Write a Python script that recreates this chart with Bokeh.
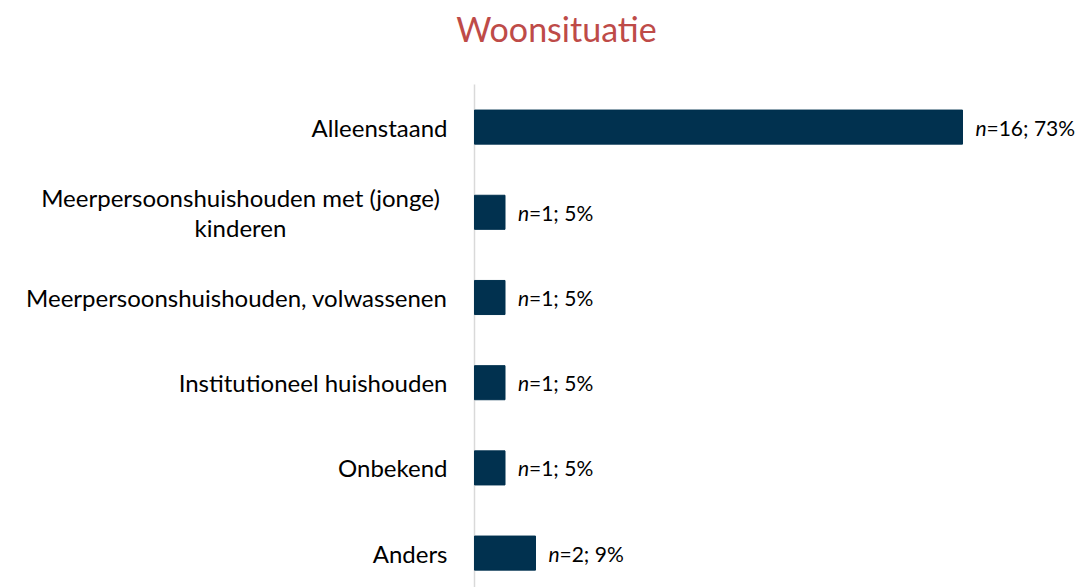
from bokeh.plotting import figure
from bokeh.models import ColumnDataSource, Range1d
from bokeh.core.properties import value
from bokeh.embed import file_html
from bokeh.resources import INLINE

title_text = "Woonsituatie"
categories = ["Alleenstaand", "Meerpersoonshuishouden met (jonge)\nkinderen",
              "Meerpersoonshuishouden, volwassenen", "Institutioneel huishouden",
              "Onbekend", "Anders"]
counts = [16, 1, 1, 1, 1, 2]
percents = [73, 5, 5, 5, 5, 9]

FONT = "Lato"
BAR = "#01314F"
CAT_SIZE = "24px"
VAL_SIZE = "21px"

ypos = list(range(len(categories) - 1, -1, -1))
multi = ["\n" in c for c in categories]
src = ColumnDataSource(dict(
    y=ypos, n=counts,
    n_txt=["n"] * len(counts),
    rest=["=%d; %d%%" % (c, p) for c, p in zip(counts, percents)],
))
cat_single = ColumnDataSource(dict(
    y=[y for y, m in zip(ypos, multi) if not m],
    x=[0] * sum(1 for m in multi if not m),
    t=[c for c, m in zip(categories, multi) if not m]))
cat_multi = ColumnDataSource(dict(
    y=[y for y, m in zip(ypos, multi) if m],
    x=[0] * sum(1 for m in multi if m),
    t=[c for c, m in zip(categories, multi) if m]))

W, H = 1078, 587
axis_px = 474
px_per_unit = 30.5
px_per_cat = 85.2
x_start = -axis_px / px_per_unit
x_end = (W - axis_px) / px_per_unit
top = 84
cat_top = 5.5
y_top = cat_top + top / px_per_cat
y_start = y_top - H / px_per_cat

p = figure(width=W, height=H, output_backend="svg", toolbar_location=None,
           x_range=Range1d(x_start, x_end), y_range=Range1d(y_start, y_top),
           min_border=0)
p.outline_line_color = None
p.grid.grid_line_color = None
p.xaxis.visible = False
p.yaxis.visible = False

# category axis line
p.segment(x0=[0], y0=[y_start], x1=[0], y1=[cat_top], line_color="#D9D9D9", line_width=1.5)

# title
p.text(x=[0], y=[y_top], text=[title_text], x_offset=556 - axis_px, y_offset=28,
       text_font=value(FONT), text_font_size="34px", text_color="#BE4B48",
       text_align="center", text_baseline="middle")

p.hbar(y="y", right="n", left=0, height=0.40, source=src, color=BAR)
p.text(x="n", y="y", text="n_txt", source=src, x_offset=13,
       text_font=value(FONT), text_font_style="italic", text_font_size=VAL_SIZE,
       text_baseline="middle", text_color="#000000")
p.text(x="n", y="y", text="rest", source=src, x_offset=24,
       text_font=value(FONT), text_font_size=VAL_SIZE,
       text_baseline="middle", text_color="#000000")

p.text(x="x", y="y", text="t", source=cat_single, x_offset=-27,
       text_font=value(FONT), text_font_size=CAT_SIZE, text_align="right",
       text_baseline="middle", text_color="#000000")
p.text(x="x", y="y", text="t", source=cat_multi, x_offset=240 - axis_px,
       text_font=value(FONT), text_font_size=CAT_SIZE, text_align="center",
       text_baseline="middle", text_color="#000000", text_line_height=1.05)

open("out.html", "w").write(file_html(p, INLINE))
